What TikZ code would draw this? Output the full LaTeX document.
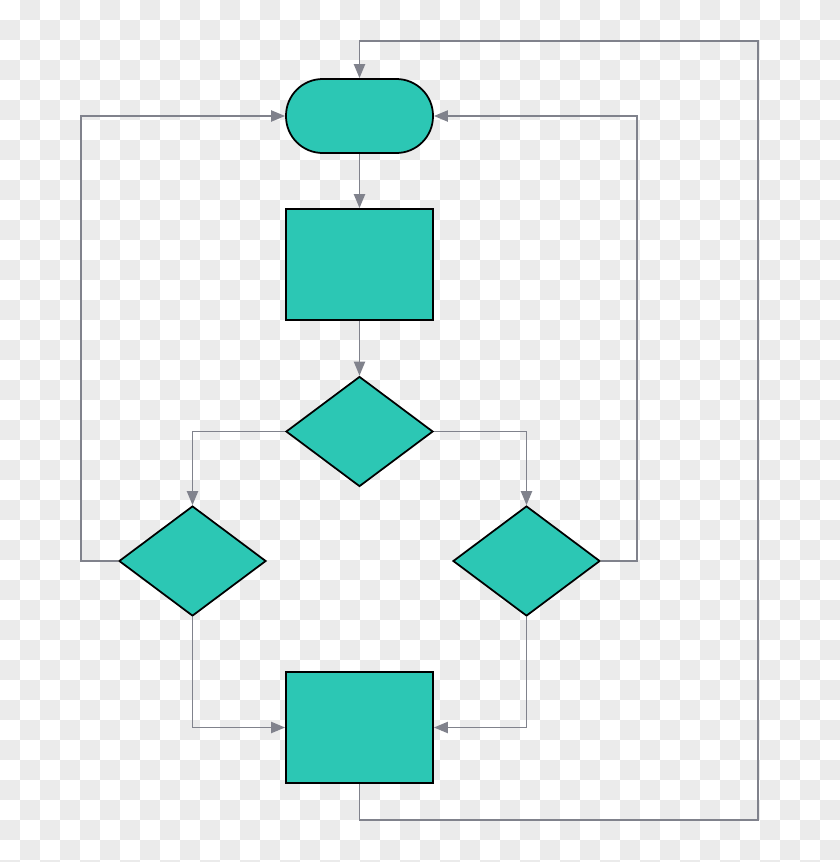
\documentclass[tikz,border=0pt]{standalone}
\usetikzlibrary{shapes.geometric,arrows.meta}

\definecolor{tealfill}{RGB}{44,199,180}
\definecolor{linegray}{RGB}{128,130,140}
\definecolor{checkgray}{RGB}{235,235,235}

\begin{document}
\begin{tikzpicture}[>={Triangle[length=12pt,width=9.5pt]}, x=0.03cm, y=-0.03cm]

\tikzstyle{terminal}=[draw, fill=tealfill, line width=1.5pt, rounded corners=1.1cm, minimum width=4.41cm, minimum height=2.22cm, inner sep=0pt]
\tikzstyle{procbox}=[draw, fill=tealfill, line width=1.5pt, minimum width=4.41cm, minimum height=3.33cm, inner sep=0pt]
\tikzstyle{decision}=[draw, fill=tealfill, line width=1.5pt, diamond, minimum width=4.41cm, minimum height=3.3cm, inner sep=0pt]
\tikzstyle{arrow}=[->, draw=linegray, line width=1.6pt]

% Background: checkerboard
\useasboundingbox (0,0) rectangle (840,862);
\begin{scope}
\clip (0,0) rectangle (840,862);
\fill[white] (0,0) rectangle (840,862);
\foreach \j in {0,...,43} {
  \pgfmathtruncatemacro\s{1-mod(\j,2)}
  \pgfmathtruncatemacro\t{\s+2}
  \foreach \i in {\s,\t,...,41}
    \fill[checkgray] (20*\i,20*\j) rectangle ++(20,20);
}
\end{scope}

% Top: start and first step
\node[terminal] (start) at (359.5,116) {};
\node[procbox] (act1) at (359.5,264.5) {};

% Middle: decisions
\node[decision] (dec) at (359.5,431.5) {};
\node[decision] (decL) at (192.5,561) {};
\node[decision] (decR) at (526.5,561) {};

% Bottom: last step
\node[procbox] (act2) at (359.5,727.5) {};

% Loop corners
\coordinate (lx) at (81,561);
\coordinate (rx) at (637,561);
\coordinate (br) at (758,820);
\coordinate (tr) at (758,41);

\draw[arrow] (start.south) -- (act1.north);
\draw[arrow] (act1.south) -- (dec.north);
\draw[arrow] (dec.west) -| (decL.north);
\draw[arrow] (dec.east) -| (decR.north);
\draw[arrow] (decL.south) |- (act2.west);
\draw[arrow] (decR.south) |- (act2.east);

% Back to start
\draw[arrow] (decL.west) -- (lx) |- (start.west);
\draw[arrow] (decR.east) -- (rx) |- (start.east);
\draw[arrow] (act2.south) |- (br) -- (tr) -| (start.north);

\end{tikzpicture}
\end{document}
